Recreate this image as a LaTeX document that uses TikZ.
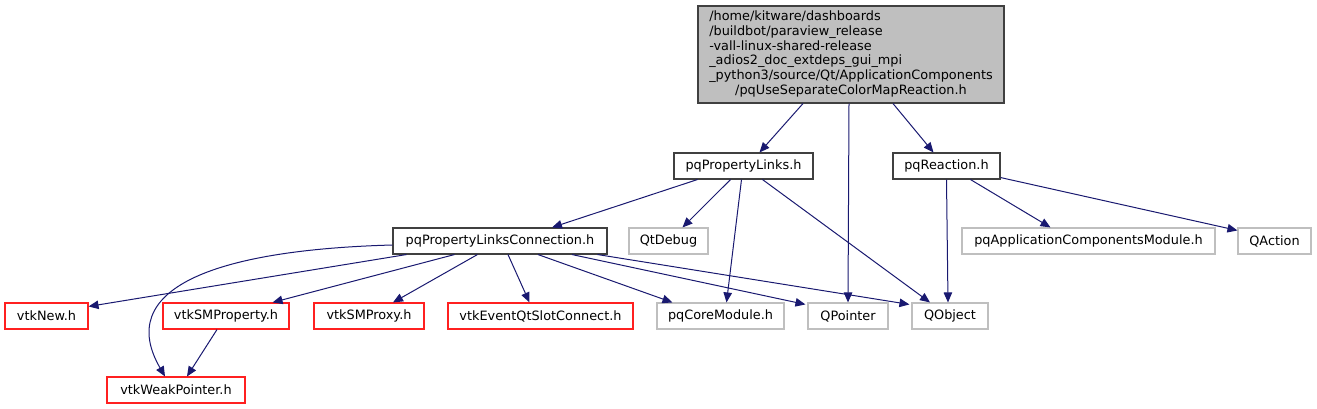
\documentclass[tikz,border=0pt]{standalone}
\usepackage{fontspec}
\setmainfont{DejaVu Sans}
\usetikzlibrary{arrows.meta,calc}
\definecolor{depedge}{HTML}{191970}
\definecolor{depgrey}{HTML}{BFBFBF}
\definecolor{depred}{HTML}{FF2020}
\definecolor{depblack}{HTML}{404040}

\begin{document}
\begin{tikzpicture}[
  x=1pt,y=-1pt,
  font=\fontsize{12.85}{14.8}\selectfont,
  hdr/.style={draw=depblack,line width=1.1pt,fill=white,inner sep=0pt,minimum height=26pt},
  undoc/.style={hdr,draw=depred},
  ext/.style={hdr,draw=depgrey},
  dep/.style={depedge,line width=1pt,-{Triangle[length=10pt,width=8.5pt]}}
]
\useasboundingbox (0,0) rectangle (1317,409);
\node[hdr,fill=depgrey,minimum width=306pt,minimum height=97pt] (main) at (851,54.5) {\begin{tabular}{@{}l@{}}/home/kitware/dashboards\\/buildbot/paraview\_release\\-vall-linux-shared-release\\\_adios2\_doc\_extdeps\_gui\_mpi\\\_python3/source/Qt/ApplicationComponents\\\multicolumn{1}{@{}c@{}}{/pqUseSeparateColorMapReaction.h}\end{tabular}};
\node[hdr,minimum width=139pt] (links) at (743.5,166) {pqPropertyLinks.h};
\node[hdr,minimum width=107pt] (reaction) at (946.5,166) {pqReaction.h};
\node[hdr,minimum width=214pt] (conn) at (500,241) {pqPropertyLinksConnection.h};
\node[ext,minimum width=79pt] (qtdebug) at (668.5,241) {QtDebug};
\node[ext,minimum width=253pt] (appmod) at (1088.5,241) {pqApplicationComponentsModule.h};
\node[ext,minimum width=73pt] (qaction) at (1274.5,241) {QAction};
\node[undoc,minimum width=83pt] (vtknew) at (46.5,316) {vtkNew.h};
\node[undoc,minimum width=126pt] (smprop) at (226,316) {vtkSMProperty.h};
\node[undoc,minimum width=110pt] (smproxy) at (369,316) {vtkSMProxy.h};
\node[undoc,minimum width=185pt] (eventqt) at (540.5,316) {vtkEventQtSlotConnect.h};
\node[ext,minimum width=127pt] (coremod) at (720.5,316) {pqCoreModule.h};
\node[ext,minimum width=80pt] (qpointer) at (848,316) {QPointer};
\node[ext,minimum width=76pt] (qobject) at (950,316) {QObject};
\node[undoc,minimum width=138pt] (weakptr) at (176,390) {vtkWeakPointer.h};

\draw[dep] ($(main.south)+(-48,0)$) -- ($(links.north)+(16,0)$);
\draw[dep] ($(main.south)+(-2,0)$) -- (qpointer.north);
\draw[dep] ($(main.south)+(42,0)$) -- ($(reaction.north)+(-13,0)$);
\draw[dep] ($(links.south west)+(24,0)$) -- ($(conn.north)+(52,0)$);
\draw[dep] ($(links.south)+(-13,0)$) -- ($(qtdebug.north)+(14,0)$);
\draw[dep] ($(links.south)+(-2,0)$) -- ($(coremod.north)+(6,0)$);
\draw[dep] ($(links.south)+(19,0)$) -- ($(qobject.north)+(-20,0)$);
\draw[dep] (reaction.south) -- ($(qobject.north)+(-2,0)$);
\draw[dep] ($(reaction.south)+(24,0)$) -- ($(appmod.north)+(-38,0)$);
\draw[dep] ($(reaction.south east)+(0,-2)$) -- ($(qaction.north west)+(0,3)$);
\draw[dep] ($(conn.south west)+(14,0)$) -- ($(vtknew.north east)+(0,4)$);
\draw[dep] ($(conn.south west)+(62,0)$) -- ($(smprop.north east)+(-17,0)$);
\draw[dep] ($(conn.south west)+(85,0)$) -- ($(smproxy.north)+(24,0)$);
\draw[dep] ($(conn.south)+(8,0)$) -- ($(eventqt.north)+(-11,0)$);
\draw[dep] ($(conn.south)+(38,0)$) -- ($(coremod.north west)+(16,0)$);
\draw[dep] ($(conn.south)+(72,0)$) -- ($(qpointer.north west)+(-2,2)$);
\draw[dep] ($(conn.south east)+(-10,0)$) -- ($(qobject.north west)+(-2,2)$);
\draw[dep] ($(conn.west)+(0,4)$) .. controls (210,250) and (115,290) .. ($(weakptr.north)+(-11,0)$);
\draw[dep] ($(smprop.south)+(-9,0)$) -- ($(weakptr.north)+(11,0)$);
\end{tikzpicture}
\end{document}
